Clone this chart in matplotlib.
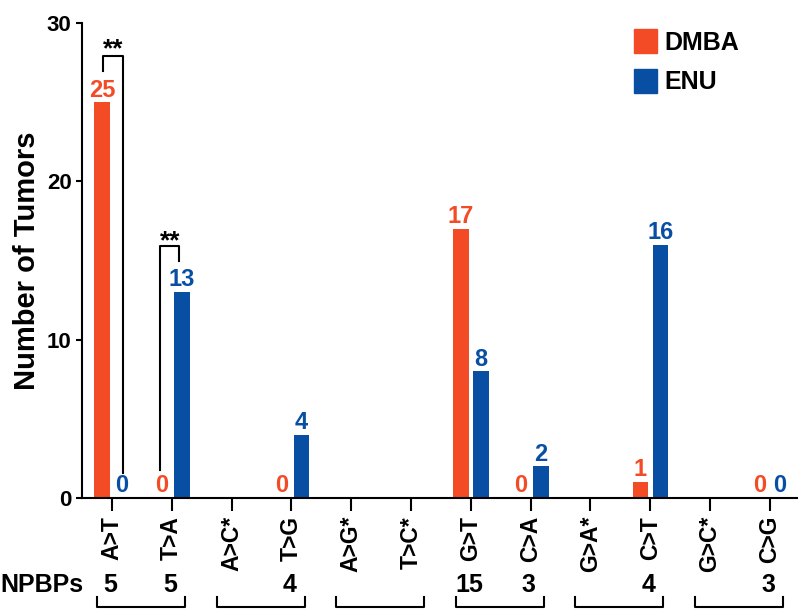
import numpy as np
import matplotlib.pyplot as plt
from matplotlib.patches import Patch
import matplotlib.transforms as mtransforms

plt.rcParams['font.family'] = ['Liberation Sans', 'DejaVu Sans']
plt.rcParams['font.weight'] = 'bold'

categories = ['A>T', 'T>A', 'A>C*', 'T>G', 'A>G*', 'T>C*',
              'G>T', 'C>A', 'G>A*', 'C>T', 'G>C*', 'C>G']
dmba = [25, 0, np.nan, 0, np.nan, np.nan, 17, 0, np.nan, 1, np.nan, 0]
enu = [0, 13, np.nan, 4, np.nan, np.nan, 8, 2, np.nan, 16, np.nan, 0]
npbps = ['5', '5', '', '4', '', '', '15', '3', '', '4', '', '3']

RED = '#F24B25'
BLUE = '#084FA3'

fig = plt.figure(figsize=(8, 6.1), dpi=100)
ax = fig.add_axes([0.1025, 0.1836, 0.8935, 0.7786])

x = np.arange(len(categories))
w = 0.26
ax.bar(x - 0.165, dmba, width=w, color=RED)
ax.bar(x + 0.17, enu, width=w, color=BLUE)

for i in range(len(categories)):
    if not np.isnan(dmba[i]):
        ax.annotate(str(int(dmba[i])), (x[i] - 0.165, dmba[i]), xytext=(0, 0.5),
                    textcoords='offset points', ha='center', va='bottom',
                    color=RED, fontsize=17, fontweight='bold')
    if not np.isnan(enu[i]):
        ax.annotate(str(int(enu[i])), (x[i] + 0.17, enu[i]), xytext=(0, 0.5),
                    textcoords='offset points', ha='center', va='bottom',
                    color=BLUE, fontsize=17, fontweight='bold')

ax.set_xlim(-0.5, 11.45)
ax.set_ylim(0, 30)
ax.set_yticks([0, 10, 20, 30])
ax.set_xticks(x)
ax.set_xticklabels(categories, rotation=90, fontsize=16.5, fontweight='bold')
ax.tick_params(axis='x', length=9, width=1.5, pad=4)
ax.tick_params(axis='y', length=4.5, width=1.5, pad=3, labelsize=16)
for lab in ax.get_yticklabels():
    lab.set_fontweight('bold')
for s in ['top', 'right']:
    ax.spines[s].set_visible(False)
for s in ['left', 'bottom']:
    ax.spines[s].set_linewidth(1.5)

ax.set_ylabel('Number of Tumors', fontsize=21, fontweight='bold')
ax.yaxis.set_label_coords(-0.058, 0.5)

# significance brackets
ax.plot([-0.15, -0.15, 0.18, 0.18], [27.0, 27.9, 27.9, 1.6], color='black', lw=1.5)
ax.text(0.02, 27.6, '**', ha='center', va='bottom', fontsize=19, fontweight='bold')
ax.plot([0.8, 0.8, 1.13, 1.13], [1.8, 15.9, 15.9, 15.0], color='black', lw=1.5)
ax.text(0.97, 15.45, '**', ha='center', va='bottom', fontsize=19, fontweight='bold')

# NPBPs row
trans = mtransforms.blended_transform_factory(ax.transData, ax.transAxes)
fig.text(0.0, 1 - 585 / 610, 'NPBPs', ha='left', va='center',
         fontsize=18, fontweight='bold')
for i, n in enumerate(npbps):
    if n:
        ax.text(x[i] - 0.03, -0.183, n, transform=trans, ha='center', va='center',
                fontsize=18, fontweight='bold', clip_on=False)
for k in range(6):
    x0 = 2 * k - 0.25
    x1 = 2 * k + 1.22
    ax.plot([x0, x0, x1, x1], [-0.208, -0.2295, -0.2295, -0.208], transform=trans,
            color='black', lw=1.5, clip_on=False)

handles = [Patch(color=RED, label='DMBA'), Patch(color=BLUE, label='ENU')]
fig.legend(handles=handles, loc='upper left', bbox_to_anchor=(0.792, 0.952),
           frameon=False, prop={'size': 18, 'weight': 'bold'},
           handlelength=0.95, handleheight=1.1, handletextpad=0.3,
           labelspacing=0.55, borderaxespad=0, borderpad=0)

fig.savefig('out.png', dpi=100)
